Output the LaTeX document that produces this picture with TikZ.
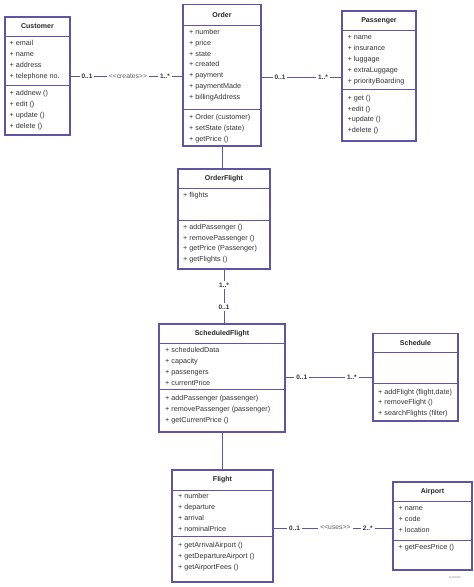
\documentclass[tikz,border=0pt]{standalone}
\usepackage{fontspec}
\setmainfont{Liberation Sans}
\usetikzlibrary{calc}
\definecolor{umlline}{HTML}{5E55A6}
\definecolor{umltext}{HTML}{333333}
\tikzset{
 umlbox/.style={draw=umlline, line width=1.1pt, fill=white, inner sep=0, outer sep=0},
 umlsep/.style={draw=umlline, line width=1pt},
 item/.style={anchor=base west, inner sep=0, text=umltext, font=\fontsize{7.2}{8}\selectfont},
 ttl/.style={anchor=center, inner sep=0, text=black!85, font=\bfseries\fontsize{7}{8}\selectfont},
 assoc/.style={draw=umlline, line width=0.9pt},
 mult/.style={fill=white, inner sep=2pt, font=\bfseries\fontsize{6.5}{7}\selectfont, text=umltext},
 stereo/.style={fill=white, inner sep=2pt, font=\fontsize{6.8}{7}\selectfont, text=umltext!80},
}
\newcommand\umlclass[8]{%
 \node[umlbox, anchor=north west, minimum width={#4pt-#2pt}, minimum height={#5pt-#3pt}] (#1) at (#2,#3) {};
 \draw[umlsep] (#1.west |- 0,#6) -- (#1.east |- 0,#6);
 \draw[umlsep] (#1.west |- 0,#7) -- (#1.east |- 0,#7);
 \node[ttl] (#1-title) at ($(#1.north)!0.5!(#1.north |- 0,#6)$) {#8};
}
\newcommand\umlitems[5]{%
 \foreach \t [count=\i from 0] in {#5} {
   \node[item] (#1-\i) at (#2, #3+\i*#4+2.5) {\t};
 }
}
\begin{document}
\begin{tikzpicture}[x=1pt,y=-1pt]
\fill[white] (0,0) rectangle (474,587);
\useasboundingbox (0,0) rectangle (474,587);

\umlclass{customer}{5}{17}{70}{135}{36}{85}{Customer}
\umlitems{customer-a}{9.5}{43}{10.9}{+ email, + name, + address, + telephone no.}
\umlitems{customer-m}{9.5}{93}{11}{+ addnew (), + edit (), + update (), + delete ()}

\umlclass{order}{183}{4.5}{261}{146}{25}{109}{Order}
\umlitems{order-a}{189}{32}{10.8}{+ number, + price, + state, + created, + payment, + paymentMade, + billingAddress}
\umlitems{order-m}{189}{117}{11}{+ Order (customer), + setState (state), + getPrice ()}

\umlclass{passenger}{342}{11}{416}{141}{30}{89}{Passenger}
\umlitems{passenger-a}{347.5}{37.3}{10.9}{+ name, + insurance, + luggage, + extraLuggage, + priorityBoarding}
\umlitems{passenger-m}{347.5}{97.7}{10.8}{+ get (), +edit (), +update (), +delete ()}

\umlclass{orderflight}{178}{169}{270}{269}{188}{220}{OrderFlight}
\umlitems{orderflight-a}{183}{195}{10.8}{+ flights}
\umlitems{orderflight-m}{183}{226.7}{10.8}{+ addPassenger (), + removePassenger (), + getPrice (Passenger), + getFlights ()}

\umlclass{scheduledflight}{159}{324}{285}{432}{343}{389}{ScheduledFlight}
\umlitems{scheduledflight-a}{165}{349.5}{11.2}{+ scheduledData, + capacity, + passengers, + currentPrice}
\umlitems{scheduledflight-m}{165}{398.3}{10.9}{+ addPassenger (passenger), + removePassenger (passenger), + getCurrentPrice ()}

\umlclass{schedule}{373}{333.5}{458}{421}{352}{383.5}{Schedule}
\umlitems{schedule-m}{378}{391.7}{10.7}{{+ addFlight (flight,date)}, + removeFlight (), + searchFlights (filter)}

\umlclass{flight}{172}{470}{273}{582}{490}{536}{Flight}
\umlitems{flight-a}{178}{495.5}{11.2}{+ number, + departure, + arrival, + nominalPrice}
\umlitems{flight-m}{178}{545}{11}{+ getArrivalAirport (), + getDepartureAirport (), + getAirportFees ()}

\umlclass{airport}{393}{482}{472}{570}{501}{540}{Airport}
\umlitems{airport-a}{398.5}{508}{11}{+ name, + code, + location}
\umlitems{airport-m}{398.5}{546.7}{11}{+ getFeesPrice ()}

% connectors
\draw[assoc] (customer.east |- 0,76) -- (order.west |- 0,76)
  node[mult, pos=0.15] (c1) {0..1}
  node[stereo, pos=0.513] (c2) {<{}<creates>{}>}
  node[mult, pos=0.84] (c3) {1..*};
\draw[assoc] (order.east |- 0,77) -- (passenger.west |- 0,77)
  node[mult, pos=0.235] (p1) {0..1}
  node[mult, pos=0.765] (p2) {1..*};
\draw[assoc] (order.south) -- (order.south |- orderflight.north);
\draw[assoc] (orderflight.south) -- (orderflight.south |- scheduledflight.north)
  node[mult, pos=0.29] (o1) {1..*}
  node[mult, pos=0.69] (o2) {0..1};
\draw[assoc] (scheduledflight.east |- 0,377.5) -- (schedule.west |- 0,377.5)
  node[mult, pos=0.19] (s1) {0..1}
  node[mult, pos=0.76] (s2) {1..*};
\draw[assoc] (scheduledflight.south) -- (scheduledflight.south |- flight.north);
\draw[assoc] (flight.east |- 0,528) -- (airport.west |- 0,528)
  node[mult, pos=0.18] (f1) {0..1}
  node[stereo, pos=0.52] (f2) {<{}<uses>{}>}
  node[mult, pos=0.79] (f3) {2..*};

\node[font=\fontsize{3.5}{4}\selectfont, text=gray!80, inner sep=0] (logo) at (455,578) {creately};
\end{tikzpicture}
\end{document}
